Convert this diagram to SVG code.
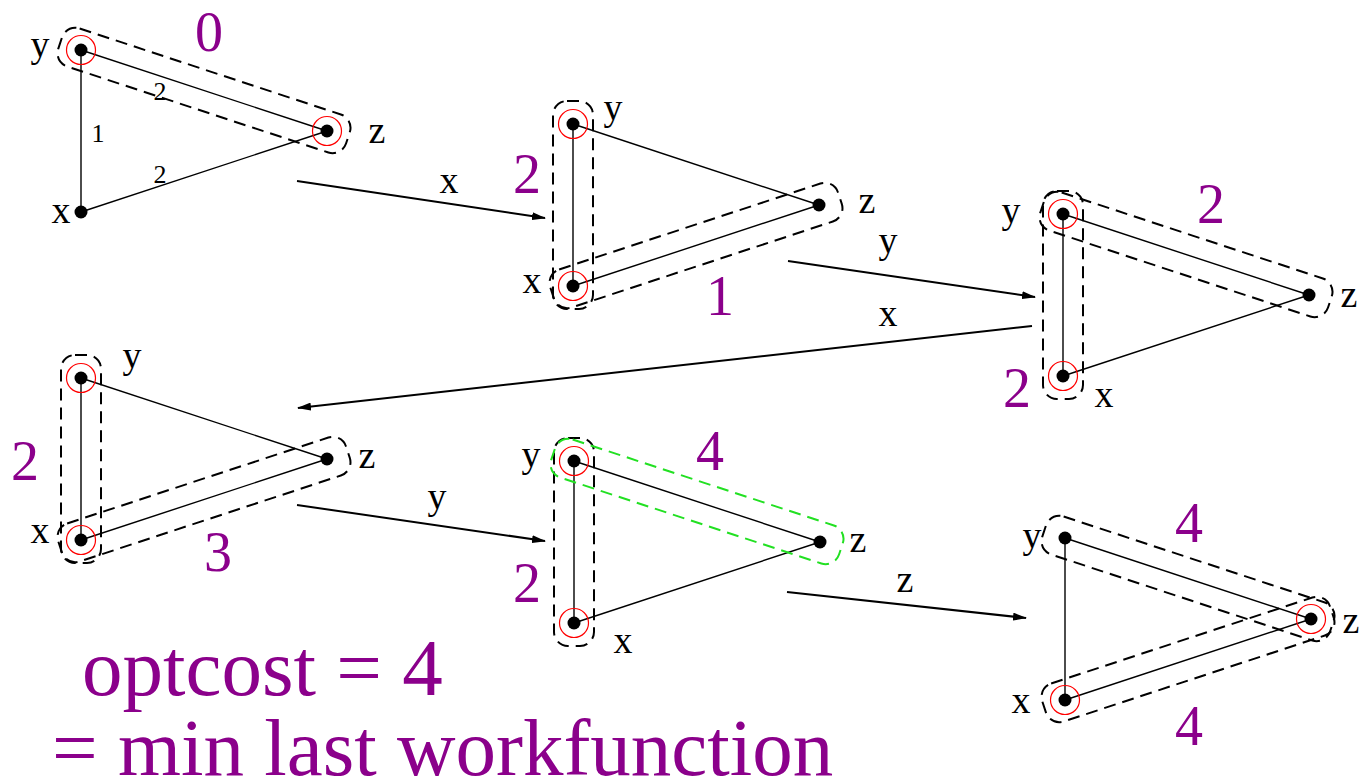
<svg xmlns="http://www.w3.org/2000/svg" width="1361" height="781" viewBox="0 0 1361 781">
<style>
.edge{stroke:#000;stroke-width:1.4;fill:none}
.dot{fill:#000}
.ring{fill:none;stroke:#f00;stroke-width:1.2}
.cap{fill:none;stroke:#000;stroke-width:2;stroke-dasharray:12 7}
.capg{fill:none;stroke:#22e022;stroke-width:2;stroke-dasharray:12 7}
.lbl{font-family:"Liberation Serif","Times New Roman",serif;font-size:38px;text-anchor:middle;fill:#000}
.w{font-family:"Liberation Serif","Times New Roman",serif;font-size:26px;text-anchor:middle;fill:#000}
.p{font-family:"Liberation Serif","Times New Roman",serif;font-size:56px;text-anchor:middle;fill:#8b008b}
.big{font-family:"Liberation Serif","Times New Roman",serif;font-size:81px;fill:#8b008b}
.conn{stroke:#000;stroke-width:2;fill:none;marker-end:url(#ah)}
</style>
<defs>
<marker id="ah" viewBox="0 0 14 8" refX="13" refY="4" markerWidth="14" markerHeight="8" markerUnits="userSpaceOnUse" orient="auto">
<path d="M0,0 L14,4 L0,8 z" fill="#000"/>
</marker>
<g id="tri">
<line class="edge" x1="0" y1="0" x2="0" y2="162"/>
<line class="edge" x1="0" y1="0" x2="246" y2="81"/>
<line class="edge" x1="0" y1="162" x2="246" y2="81"/>
<circle class="dot" cx="0" cy="0" r="6.5"/>
<circle class="dot" cx="246" cy="81" r="6.5"/>
<circle class="dot" cx="0" cy="162" r="6.5"/>
</g>
<rect id="capYZ" x="-22" y="-20" width="303" height="40" rx="14" transform="rotate(18.22)"/>
<rect id="capXZ" x="-22" y="-20" width="303" height="40" rx="14" transform="translate(0,162) rotate(-18.22)"/>
<rect id="capXY" x="-20" y="-23" width="40" height="208" rx="14"/>
<circle id="ringY" cx="0" cy="0" r="14.5"/>
<circle id="ringZ" cx="246" cy="81" r="14.5"/>
<circle id="ringX" cx="0" cy="162" r="14.5"/>
</defs>

<g id="t1" transform="translate(81,50)">
<use href="#tri"/>
<use href="#capYZ" class="cap"/>
<use href="#ringY" class="ring"/>
<use href="#ringZ" class="ring"/>
</g>
<g id="t1-labels">
<text class="lbl" x="40" y="57">y</text>
<text class="lbl" x="377" y="143">z</text>
<text class="lbl" x="61" y="223">x</text>
<text class="w" x="160" y="100">2</text>
<text class="w" x="98" y="142">1</text>
<text class="w" x="160" y="183">2</text>
<text class="p" x="209" y="51">0</text>
</g>

<g id="t2" transform="translate(573,124)">
<use href="#tri"/>
<use href="#capXY" class="cap"/>
<use href="#capXZ" class="cap"/>
<use href="#ringY" class="ring"/>
<use href="#ringX" class="ring"/>
</g>
<g id="t2-labels">
<text class="lbl" x="613" y="120">y</text>
<text class="lbl" x="867" y="213">z</text>
<text class="lbl" x="532" y="293">x</text>
<text class="p" x="527" y="193">2</text>
<text class="p" x="720" y="315">1</text>
</g>

<g id="t3" transform="translate(1063,214)">
<use href="#tri"/>
<use href="#capXY" class="cap"/>
<use href="#capYZ" class="cap"/>
<use href="#ringY" class="ring"/>
<use href="#ringX" class="ring"/>
</g>
<g id="t3-labels">
<text class="lbl" x="1011" y="223">y</text>
<text class="lbl" x="1349" y="307">z</text>
<text class="lbl" x="1104" y="407">x</text>
<text class="p" x="1211" y="223">2</text>
<text class="p" x="1017" y="407">2</text>
</g>

<g id="t4" transform="translate(81,378)">
<use href="#tri"/>
<use href="#capXY" class="cap"/>
<use href="#capXZ" class="cap"/>
<use href="#ringY" class="ring"/>
<use href="#ringX" class="ring"/>
</g>
<g id="t4-labels">
<text class="lbl" x="132" y="368">y</text>
<text class="lbl" x="367" y="468">z</text>
<text class="lbl" x="40" y="543">x</text>
<text class="p" x="25" y="480">2</text>
<text class="p" x="218" y="571">3</text>
</g>

<g id="t5" transform="translate(574,461)">
<use href="#tri"/>
<use href="#capXY" class="cap"/>
<use href="#capYZ" class="capg"/>
<use href="#ringY" class="ring"/>
<use href="#ringX" class="ring"/>
</g>
<g id="t5-labels">
<text class="lbl" x="531" y="467">y</text>
<text class="lbl" x="858" y="552">z</text>
<text class="lbl" x="623" y="653">x</text>
<text class="p" x="710" y="470">4</text>
<text class="p" x="527" y="602">2</text>
</g>

<g id="t6" transform="translate(1065,538)">
<use href="#tri"/>
<use href="#capYZ" class="cap"/>
<use href="#capXZ" class="cap"/>
<use href="#ringZ" class="ring"/>
<use href="#ringX" class="ring"/>
</g>
<g id="t6-labels">
<text class="lbl" x="1032" y="548">y</text>
<text class="lbl" x="1351" y="633">z</text>
<text class="lbl" x="1021" y="713">x</text>
<text class="p" x="1189" y="542">4</text>
<text class="p" x="1189" y="745">4</text>
</g>

<g id="connectors">
<line class="conn" x1="297" y1="181" x2="545" y2="218"/>
<line class="conn" x1="788" y1="261" x2="1035" y2="297"/>
<line class="conn" x1="1032" y1="326" x2="298" y2="408"/>
<line class="conn" x1="297" y1="505" x2="545" y2="541"/>
<line class="conn" x1="787" y1="592" x2="1026" y2="618"/>
<text class="lbl" x="449" y="193">x</text>
<text class="lbl" x="888" y="253">y</text>
<text class="lbl" x="888" y="326">x</text>
<text class="lbl" x="437" y="509">y</text>
<text class="lbl" x="905" y="592">z</text>
</g>

<g id="caption">
<text class="big" x="82" y="695">optcost = 4</text>
<text class="big" x="52" y="775">= min last workfunction</text>
</g>
</svg>
